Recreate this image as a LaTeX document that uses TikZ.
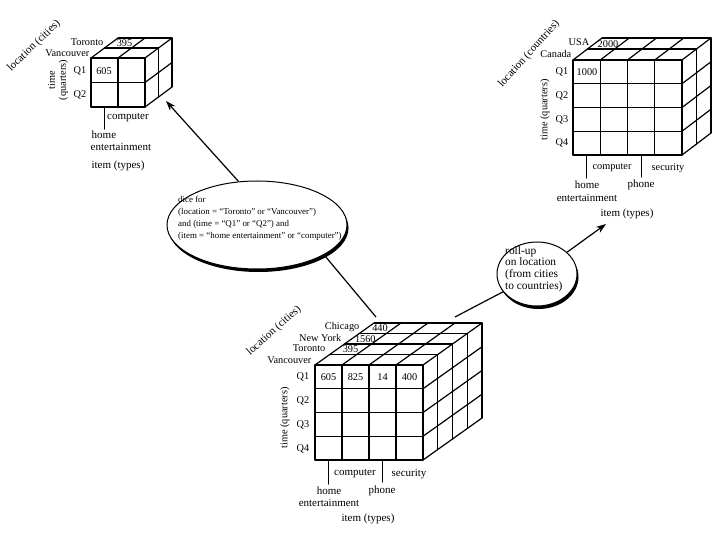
\documentclass[tikz,border=0pt]{standalone}
\usepackage{fontspec}
\setmainfont{Liberation Serif}
\usetikzlibrary{shadows,shapes.geometric,arrows.meta}
\newcommand{\drawcube}[9]{%
  \pgfmathsetmacro\cW{#3*#6}\pgfmathsetmacro\cH{#4*#7}%
  \pgfmathsetmacro\cDX{#5*#8}\pgfmathsetmacro\cDY{#5*(#9)}%
  \foreach \i in {0,...,#3} \draw[cubeline] ({#1+\i*#6},{#2}) -- ++(0,\cH);
  \foreach \j in {0,...,#4} \draw[cubeline] ({#1},{#2+\j*#7}) -- ++(\cW,0);
  \foreach \k in {1,...,#5} \draw[cubeline] ({#1+\k*#8},{#2+\k*(#9)}) -- ++(\cW,0);
  \foreach \i in {0,...,#3} \draw[cubeline] ({#1+\i*#6},{#2}) -- ++(\cDX,\cDY);
  \foreach \k in {1,...,#5} \draw[cubeline] ({#1+\cW+\k*#8},{#2+\k*(#9)}) -- ++(0,\cH);
  \foreach \j in {1,...,#4} \draw[cubeline] ({#1+\cW},{#2+\j*#7}) -- ++(\cDX,\cDY);
}
\begin{document}
\begin{tikzpicture}[x=1pt,y=-1pt,
  cubeline/.style={line width=1.2pt,line cap=round},
  lbl/.style={font=\fontsize{10.3}{11}\selectfont,inner sep=0.5pt},
  blbl/.style={font=\fontsize{11}{12}\selectfont,inner sep=0.5pt},
  vlbl/.style={font=\fontsize{10.3}{11}\selectfont,inner sep=0.5pt},
  conn/.style={line width=1.2pt},
  arr/.style={line width=1.2pt,-{Stealth[length=10pt,width=7pt]}},
  bubble/.style={ellipse,draw,line width=1pt,fill=white,inner sep=0pt,
    drop shadow={shadow xshift=1.5pt,shadow yshift=-3pt,fill=black,opacity=1}}]
\useasboundingbox (0,0) rectangle (720,540);

% ---------- small (dice) cube ----------
\drawcube{91}{58}{2}{2}{2}{27}{24.5}{13.5}{-10}
\node[lbl,anchor=east] (sv) at (90,53) {Vancouver};
\node[lbl,anchor=east] (st) at (104,42) {Toronto};
\node[vlbl] (s395) at (124.5,43) {395};
\node[vlbl] (s605) at (104,71) {605};
\node[lbl,anchor=east] (sq1) at (87,71) {Q1};
\node[lbl,anchor=east] (sq2) at (87,95) {Q2};
\node[lbl,rotate=90,align=center] (stime) at (58,80) {time\\(quarters)};
\node[blbl,rotate=44] (sloc) at (34,46) {location (cities)};
\coordinate (sb0) at (104.5,107);
\coordinate (sb0e) at (104.5,129);
\draw[cubeline] (sb0) -- (sb0e);
\node[blbl] (scomp) at (128,118) {computer};
\node[blbl,anchor=north west,align=left] (shome) at (90,130) {\hspace*{1pt}home\\entertainment};
\node[blbl] (sitem) at (118,166) {item (types)};

% ---------- top-right (roll-up) cube ----------
\drawcube{573}{60}{4}{4}{2}{27.25}{23.75}{14.5}{-11}
\node[lbl,anchor=east] (rc) at (572,54) {Canada};
\node[lbl,anchor=east] (ru) at (590,42) {USA};
\node[vlbl] (r2000) at (608,44) {2000};
\node[vlbl] (r1000) at (587,72) {1000};
\node[lbl,anchor=east] (rq1) at (569,72) {Q1};
\node[lbl,anchor=east] (rq2) at (569,96) {Q2};
\node[lbl,anchor=east] (rq3) at (569,120) {Q3};
\node[lbl,anchor=east] (rq4) at (569,143) {Q4};
\node[lbl,rotate=90] (rtime) at (545,110) {time (quarters)};
\node[blbl,rotate=48] (rloc) at (529,54) {location (countries)};
\coordinate (rb0) at (586.6,155);
\coordinate (rb0e) at (586.6,178);
\coordinate (rb2) at (641.1,155);
\coordinate (rb2e) at (641.1,177);
\draw[cubeline] (rb0) -- (rb0e);
\draw[cubeline] (rb2) -- (rb2e);
\node[lbl] (rcomp) at (612,168) {computer};
\node[lbl] (rsec) at (668,168) {security};
\node[blbl] (rhome) at (587,185) {home};
\node[blbl] (rphone) at (641,185) {phone};
\node[blbl] (rent) at (587,198) {entertainment};
\node[blbl] (ritem) at (627,214) {item (types)};

% ---------- main cube ----------
\drawcube{315}{365}{4}{4}{4}{27}{23.75}{14.75}{-10.5}
\node[lbl,anchor=east] (mv) at (312,360) {Vancouver};
\node[lbl,anchor=east] (mt) at (326,348) {Toronto};
\node[lbl,anchor=east] (mn) at (342,338) {New York};
\node[lbl,anchor=east] (mc) at (360,327) {Chicago};
\node[vlbl] (m395) at (350.5,349) {395};
\node[vlbl] (m1560) at (365.3,339) {1560};
\node[vlbl] (m440) at (380,328) {440};
\node[vlbl] (m605) at (328.5,377) {605};
\node[vlbl] (m825) at (355.5,377) {825};
\node[vlbl] (m14) at (382.5,377) {14};
\node[vlbl] (m400) at (409.5,377) {400};
\node[lbl,anchor=east] (mq1) at (310,377) {Q1};
\node[lbl,anchor=east] (mq2) at (310,401) {Q2};
\node[lbl,anchor=east] (mq3) at (310,425) {Q3};
\node[lbl,anchor=east] (mq4) at (310,449) {Q4};
\node[lbl,rotate=90] (mtime) at (285,418) {time (quarters)};
\node[blbl,rotate=42] (mloc) at (274,331) {location (cities)};
\coordinate (mb0) at (328.5,460);
\coordinate (mb0e) at (328.5,484);
\coordinate (mb2) at (382.5,460);
\coordinate (mb2e) at (382.5,482);
\draw[cubeline] (mb0) -- (mb0e);
\draw[cubeline] (mb2) -- (mb2e);
\node[blbl] (mcomp) at (355,474) {computer};
\node[blbl] (msec) at (409,474) {security};
\node[blbl] (mhome) at (329,491) {home};
\node[blbl] (mphone) at (382,491) {phone};
\node[blbl] (ment) at (329,503) {entertainment};
\node[blbl] (mitem) at (368,519) {item (types)};

% ---------- operation bubbles ----------
\node[bubble,minimum width=180pt,minimum height=88pt] (dice) at (257,225) {};
\node[align=left,inner sep=0pt,font=\fontsize{8.9}{12}\selectfont,anchor=north west] (dicetext) at (178,196)
  {dice for\\(location = “Toronto” or “Vancouver”)\\and (time = “Q1” or “Q2”) and\\(item = “home entertainment” or “computer”)};
\node[bubble,minimum width=80pt,minimum height=64pt] (roll) at (537,274) {};
\node[align=left,inner sep=0pt,font=\fontsize{11.4}{11.7}\selectfont,anchor=north west] (rolltext) at (505,246)
  {roll-up\\on location\\(from cities\\to countries)};

% ---------- connectors ----------
\coordinate (tsmall) at (166,101);
\coordinate (mtop) at (376,317);
\coordinate (mtr) at (455,317);
\coordinate (ttr) at (606,224);
\draw[arr] (dice.113) -- (tsmall);
\draw[conn] (dice.-24) -- (mtop);
\draw[conn] (mtr) -- (roll);
\draw[arr] (roll) -- (ttr);
\end{tikzpicture}
\end{document}
